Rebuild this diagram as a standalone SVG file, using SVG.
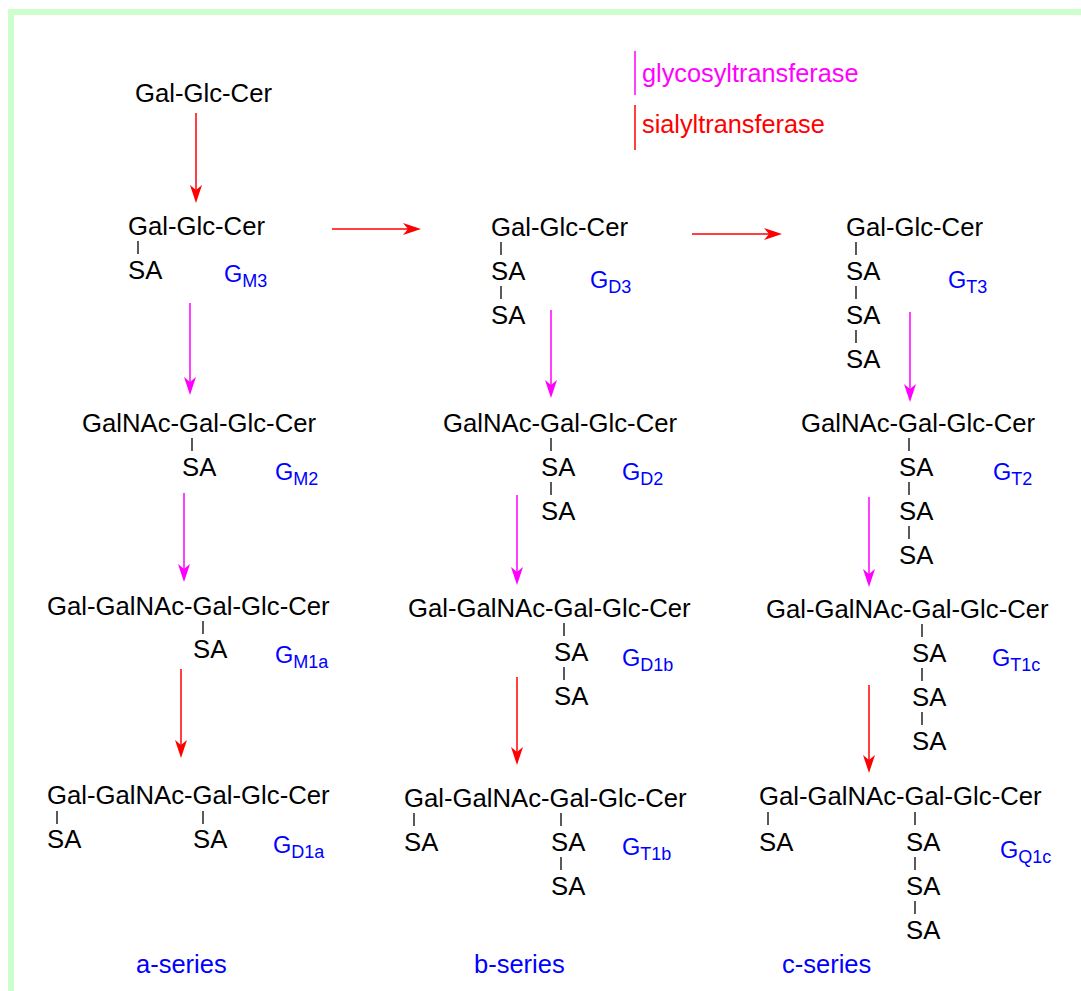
<svg xmlns="http://www.w3.org/2000/svg" width="1081" height="991" viewBox="0 0 1081 991">
  <style>
    .mol { font-family: "Liberation Sans", Arial, sans-serif; font-size: 25.7px; fill: #000; }
    .lbl { font-family: "Liberation Sans", Arial, sans-serif; font-size: 23.5px; fill: #0000ff; }
    .sub { font-size: 18px; }
    .series { font-family: "Liberation Sans", Arial, sans-serif; font-size: 25.5px; fill: #0000ff; }
    .legend { font-family: "Liberation Sans", Arial, sans-serif; font-size: 25.3px; }
    .bond { stroke: #000; stroke-width: 1.3; }
    .sial { stroke: #ff0000; stroke-width: 1.5; fill: none; marker-end: url(#headRed); }
    .glyc { stroke: #ff00ff; stroke-width: 1.5; fill: none; marker-end: url(#headMag); }
  </style>
  <defs>
    <marker id="headRed" viewBox="0 -6 18 12" refX="5" refY="0" markerWidth="18" markerHeight="12" markerUnits="userSpaceOnUse" orient="auto">
      <path d="M0,-6 L18,0 L0,6 L5,0 Z" fill="#ff0000"/>
    </marker>
    <marker id="headMag" viewBox="0 -6 18 12" refX="5" refY="0" markerWidth="18" markerHeight="12" markerUnits="userSpaceOnUse" orient="auto">
      <path d="M0,-6 L18,0 L0,6 L5,0 Z" fill="#ff00ff"/>
    </marker>
  </defs>

  <rect width="1081" height="991" fill="#fff"/>

  <!-- frame -->
  <g id="frame" stroke="#ccffcc" stroke-width="6" fill="none">
    <line x1="11" y1="9" x2="11" y2="991"/>
    <line x1="8" y1="12" x2="1081" y2="12"/>
  </g>

  <!-- legend -->
  <g id="legend" class="legend">
    <line x1="635" y1="51" x2="635" y2="95" stroke="#ff00ff" stroke-width="1.5"/>
    <text x="642" y="82" fill="#ff00ff">glycosyltransferase</text>
    <line x1="635" y1="105" x2="635" y2="150" stroke="#ff0000" stroke-width="1.5"/>
    <text x="642" y="133" fill="#ff0000">sialyltransferase</text>
  </g>

  <!-- lactosylceramide -->
  <g id="LacCer">
    <text class="mol" x="135" y="102">Gal-Glc-Cer</text>
  </g>

  <!-- a-series -->
  <g id="GM3">
    <text class="mol" x="128" y="235">Gal-Glc-Cer</text>
    <line class="bond" x1="138" y1="241" x2="138" y2="254"/>
    <text class="mol" x="128" y="279">SA</text>
    <text class="lbl" x="224" y="282">G<tspan class="sub" dy="5">M3</tspan></text>
  </g>
  <g id="GM2">
    <text class="mol" x="82" y="432">GalNAc-Gal-Glc-Cer</text>
    <line class="bond" x1="192" y1="438" x2="192" y2="451"/>
    <text class="mol" x="182" y="476">SA</text>
    <text class="lbl" x="275" y="480">G<tspan class="sub" dy="5">M2</tspan></text>
  </g>
  <g id="GM1a">
    <text class="mol" x="47" y="615">Gal-GalNAc-Gal-Glc-Cer</text>
    <line class="bond" x1="203" y1="621" x2="203" y2="634"/>
    <text class="mol" x="193" y="658">SA</text>
    <text class="lbl" x="275" y="663">G<tspan class="sub" dy="5">M1a</tspan></text>
  </g>
  <g id="GD1a">
    <text class="mol" x="47" y="804">Gal-GalNAc-Gal-Glc-Cer</text>
    <line class="bond" x1="57" y1="811" x2="57" y2="824"/>
    <text class="mol" x="47" y="848">SA</text>
    <line class="bond" x1="203" y1="811" x2="203" y2="824"/>
    <text class="mol" x="193" y="848">SA</text>
    <text class="lbl" x="273" y="853">G<tspan class="sub" dy="5">D1a</tspan></text>
  </g>

  <!-- b-series -->
  <g id="GD3">
    <text class="mol" x="491" y="236">Gal-Glc-Cer</text>
    <line class="bond" x1="501" y1="242" x2="501" y2="255"/>
    <text class="mol" x="491" y="280">SA</text>
    <line class="bond" x1="501" y1="286" x2="501" y2="299"/>
    <text class="mol" x="491" y="324">SA</text>
    <text class="lbl" x="590" y="288">G<tspan class="sub" dy="5">D3</tspan></text>
  </g>
  <g id="GD2">
    <text class="mol" x="443" y="432">GalNAc-Gal-Glc-Cer</text>
    <line class="bond" x1="551" y1="438" x2="551" y2="451"/>
    <text class="mol" x="541" y="476">SA</text>
    <line class="bond" x1="551" y1="482" x2="551" y2="495"/>
    <text class="mol" x="541" y="520">SA</text>
    <text class="lbl" x="622" y="480">G<tspan class="sub" dy="5">D2</tspan></text>
  </g>
  <g id="GD1b">
    <text class="mol" x="408" y="617">Gal-GalNAc-Gal-Glc-Cer</text>
    <line class="bond" x1="564" y1="623" x2="564" y2="636"/>
    <text class="mol" x="554" y="661">SA</text>
    <line class="bond" x1="564" y1="667" x2="564" y2="680"/>
    <text class="mol" x="554" y="705">SA</text>
    <text class="lbl" x="622" y="666">G<tspan class="sub" dy="5">D1b</tspan></text>
  </g>
  <g id="GT1b">
    <text class="mol" x="404" y="807">Gal-GalNAc-Gal-Glc-Cer</text>
    <line class="bond" x1="414" y1="813" x2="414" y2="826"/>
    <text class="mol" x="404" y="851">SA</text>
    <line class="bond" x1="561" y1="813" x2="561" y2="826"/>
    <text class="mol" x="551" y="851">SA</text>
    <line class="bond" x1="561" y1="857" x2="561" y2="870"/>
    <text class="mol" x="551" y="895">SA</text>
    <text class="lbl" x="622" y="855">G<tspan class="sub" dy="5">T1b</tspan></text>
  </g>

  <!-- c-series -->
  <g id="GT3">
    <text class="mol" x="846" y="236">Gal-Glc-Cer</text>
    <line class="bond" x1="856" y1="242" x2="856" y2="255"/>
    <text class="mol" x="846" y="280">SA</text>
    <line class="bond" x1="856" y1="286" x2="856" y2="299"/>
    <text class="mol" x="846" y="324">SA</text>
    <line class="bond" x1="856" y1="330" x2="856" y2="343"/>
    <text class="mol" x="846" y="368">SA</text>
    <text class="lbl" x="948" y="288">G<tspan class="sub" dy="5">T3</tspan></text>
  </g>
  <g id="GT2">
    <text class="mol" x="801" y="432">GalNAc-Gal-Glc-Cer</text>
    <line class="bond" x1="909" y1="438" x2="909" y2="451"/>
    <text class="mol" x="899" y="476">SA</text>
    <line class="bond" x1="909" y1="482" x2="909" y2="495"/>
    <text class="mol" x="899" y="520">SA</text>
    <line class="bond" x1="909" y1="526" x2="909" y2="539"/>
    <text class="mol" x="899" y="564">SA</text>
    <text class="lbl" x="993" y="480">G<tspan class="sub" dy="5">T2</tspan></text>
  </g>
  <g id="GT1c">
    <text class="mol" x="766" y="618">Gal-GalNAc-Gal-Glc-Cer</text>
    <line class="bond" x1="922" y1="624" x2="922" y2="637"/>
    <text class="mol" x="912" y="662">SA</text>
    <line class="bond" x1="922" y1="668" x2="922" y2="681"/>
    <text class="mol" x="912" y="706">SA</text>
    <line class="bond" x1="922" y1="712" x2="922" y2="725"/>
    <text class="mol" x="912" y="750">SA</text>
    <text class="lbl" x="992" y="666">G<tspan class="sub" dy="5">T1c</tspan></text>
  </g>
  <g id="GQ1c">
    <text class="mol" x="759" y="805">Gal-GalNAc-Gal-Glc-Cer</text>
    <line class="bond" x1="768" y1="812" x2="768" y2="825"/>
    <text class="mol" x="759" y="851">SA</text>
    <line class="bond" x1="915" y1="812" x2="915" y2="825"/>
    <text class="mol" x="906" y="851">SA</text>
    <line class="bond" x1="915" y1="857" x2="915" y2="870"/>
    <text class="mol" x="906" y="895">SA</text>
    <line class="bond" x1="915" y1="901" x2="915" y2="914"/>
    <text class="mol" x="906" y="939">SA</text>
    <text class="lbl" x="1000" y="858">G<tspan class="sub" dy="5">Q1c</tspan></text>
  </g>

  <!-- series captions -->
  <g id="series">
    <text class="series" x="136" y="973">a-series</text>
    <text class="series" x="474" y="973">b-series</text>
    <text class="series" x="782" y="973">c-series</text>
  </g>

  <!-- enzyme steps -->
  <g id="connectors">
    <line class="sial" x1="196" y1="113" x2="196" y2="190"/>
    <line class="sial" x1="332" y1="229" x2="408" y2="229"/>
    <line class="sial" x1="692" y1="234" x2="769" y2="234"/>
    <line class="glyc" x1="190" y1="303" x2="190" y2="382"/>
    <line class="glyc" x1="551" y1="310" x2="551" y2="385"/>
    <line class="glyc" x1="910" y1="312" x2="910" y2="389"/>
    <line class="glyc" x1="184" y1="493" x2="184" y2="569"/>
    <line class="glyc" x1="517" y1="495" x2="517" y2="572"/>
    <line class="glyc" x1="869" y1="497" x2="869" y2="574"/>
    <line class="sial" x1="181" y1="669" x2="181" y2="745"/>
    <line class="sial" x1="517" y1="677" x2="517" y2="752"/>
    <line class="sial" x1="869" y1="685" x2="869" y2="760"/>
  </g>
</svg>
